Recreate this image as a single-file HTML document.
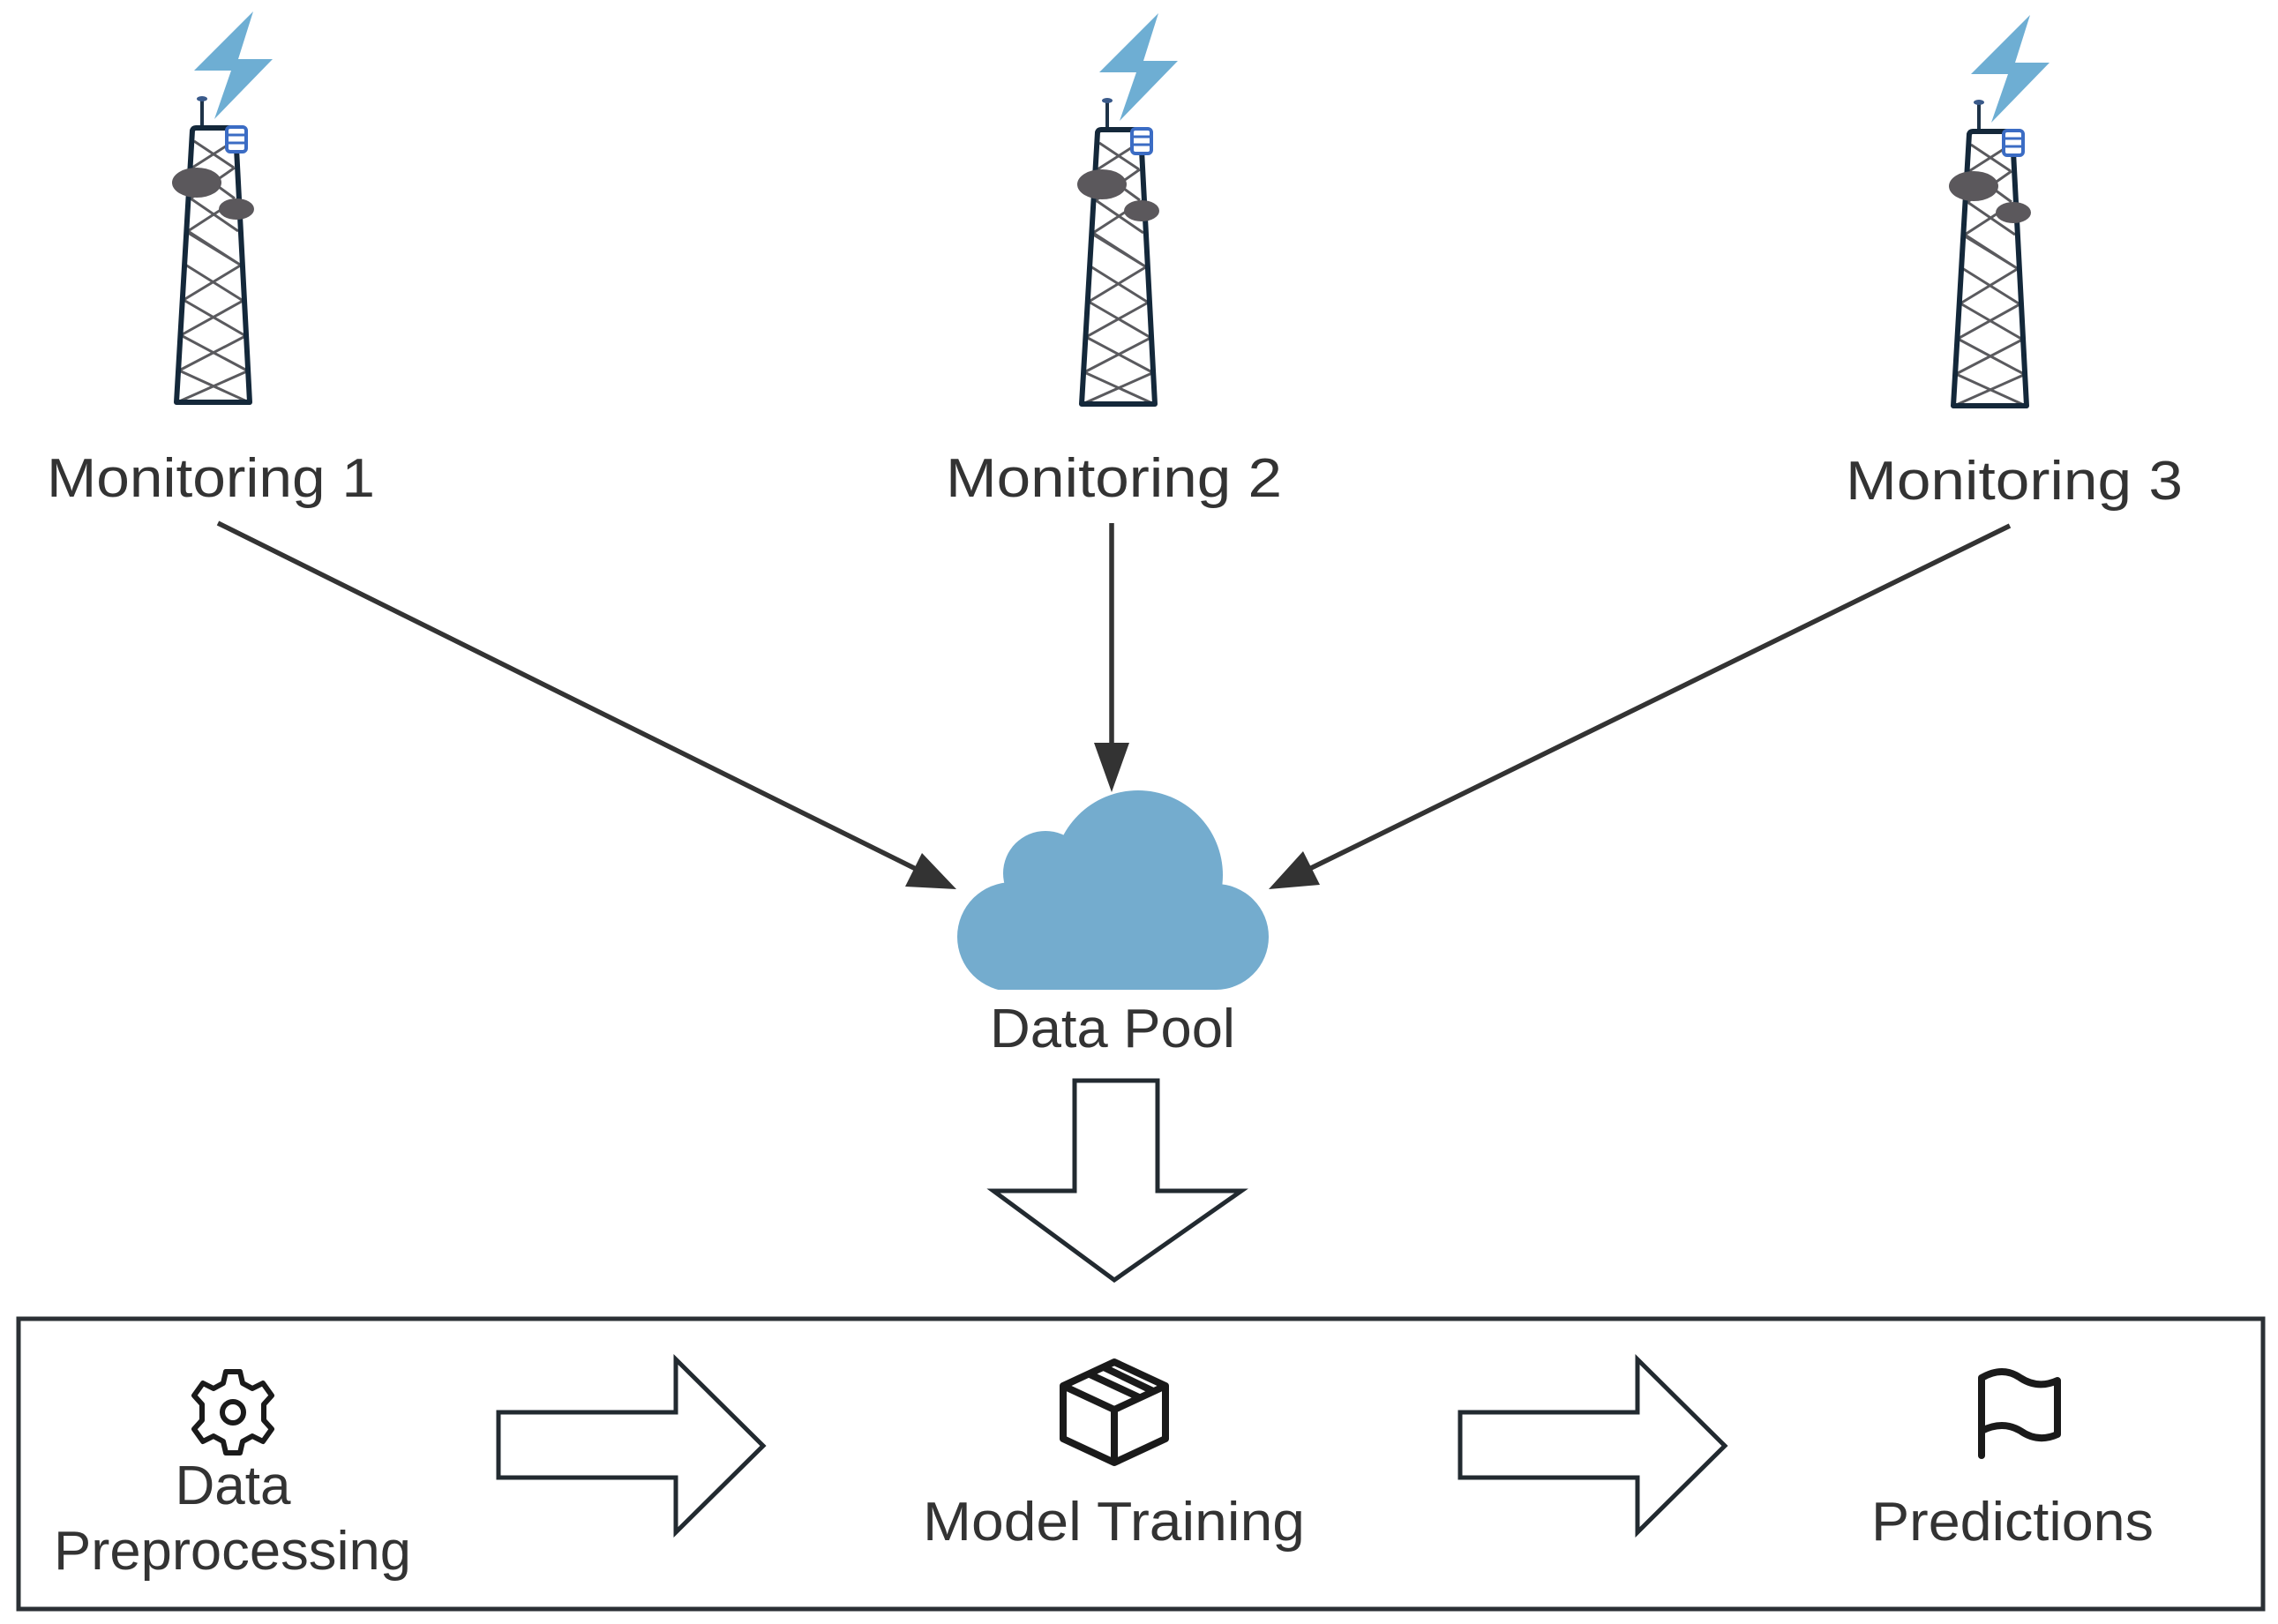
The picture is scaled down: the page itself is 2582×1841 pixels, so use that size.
<!DOCTYPE html>
<html><head><meta charset="utf-8"><style>
html,body{margin:0;padding:0;background:#fff;}
svg{display:block}
text{font-family:"Liberation Sans",sans-serif;fill:#333;font-size:62px}
</style></head><body>
<svg width="2582" height="1841" viewBox="0 0 2582 1841" xmlns="http://www.w3.org/2000/svg">
<defs>
<g id="tower">
  <polygon points="287,13 220,80 262,80 243,135 309,67 270,67" fill="#6eaed3"/>
  <line x1="229" y1="112" x2="229" y2="146" stroke="#1e3348" stroke-width="4"/>
  <ellipse cx="229" cy="112" rx="6" ry="3" fill="#3a5a8a"/>
  <g stroke="#5a5a5e" stroke-width="3" fill="none">
    <path d="M220,160 L265,190 M265,160 L218,190 M218,190 L266,225 M266,190 L216,225 M216,225 L270,262 M270,225 L213,262 M213,262 L272,300 M272,300 L210,262 M210,300 L274,340 M274,300 L208,340 M208,340 L277,380 M277,340 L205,380 M205,380 L280,420 M280,380 L203,420 M203,420 L282,456 M282,420 L201,456"/>
  </g>
  <path d="M200,456 L218,148 Q219,145 222,145 L262,145 Q266,145 267,149 L283,456 Z" fill="none" stroke="#14283a" stroke-width="6" stroke-linejoin="round"/>
  <rect x="257" y="144" width="22" height="28" rx="4" fill="#fff" stroke="#3b6cc4" stroke-width="4"/>
  <line x1="258" y1="153" x2="278" y2="153" stroke="#3b6cc4" stroke-width="3"/>
  <line x1="258" y1="162" x2="278" y2="162" stroke="#3b6cc4" stroke-width="3"/>
  <ellipse cx="223" cy="207" rx="28" ry="17" fill="#5b585c"/>
  <ellipse cx="268" cy="237" rx="20" ry="12" fill="#5b585c"/>
</g>
<clipPath id="cc"><rect x="1000" y="850" width="500" height="272"/></clipPath>
</defs>

<use href="#tower"/>
<use href="#tower" transform="translate(1026,2)"/>
<use href="#tower" transform="translate(2014,4)"/>

<text x="53" y="563" textLength="372" lengthAdjust="spacingAndGlyphs">Monitoring 1</text>
<text x="1072" y="563" textLength="381" lengthAdjust="spacingAndGlyphs">Monitoring 2</text>
<text x="2092" y="566" textLength="382" lengthAdjust="spacingAndGlyphs">Monitoring 3</text>

<g stroke="#333" stroke-width="5.5">
  <line x1="247" y1="593" x2="1040" y2="986"/>
  <line x1="1260" y1="593" x2="1260" y2="850"/>
  <line x1="2278" y1="596" x2="1482" y2="986"/>
</g>
<g fill="#333">
  <polygon points="1084,1008 1026,1005 1045,967"/>
  <polygon points="1260,898 1240,842 1280,842"/>
  <polygon points="1438,1008 1477,965 1496,1003"/>
</g>

<g fill="#74acce" clip-path="url(#cc)">
  <circle cx="1147" cy="1062" r="62"/>
  <circle cx="1185" cy="990" r="48"/>
  <circle cx="1290" cy="992" r="96"/>
  <circle cx="1378" cy="1062" r="60"/>
  <rect x="1147" y="1000" width="231" height="122"/>
</g>
<text x="1122" y="1187" textLength="278" lengthAdjust="spacingAndGlyphs">Data Pool</text>

<polygon points="1218,1225 1312,1225 1312,1350 1407,1350 1263,1451 1126,1350 1218,1350" fill="#fff" stroke="#222a30" stroke-width="5"/>

<rect x="21" y="1495" width="2544" height="329" fill="#fff" stroke="#2b3035" stroke-width="5"/>

<polygon points="565,1601 766,1601 766,1541 865,1639 766,1737 766,1675 565,1675" fill="#fff" stroke="#222a30" stroke-width="5"/>
<polygon points="1655,1601 1856,1601 1856,1541 1955,1639 1856,1737 1856,1675 1655,1675" fill="#fff" stroke="#222a30" stroke-width="5"/>

<g transform="translate(264,1601)" fill="none" stroke="#1a1a1a" stroke-width="6" stroke-linejoin="round">
  <path d="M-8,-46 L8,-46 L11,-33 L22,-27 L34,-33 L44,-19 L35,-9 L35,9 L44,19 L34,33 L22,27 L11,33 L8,46 L-8,46 L-11,33 L-22,27 L-34,33 L-44,19 L-35,9 L-35,-9 L-44,-19 L-34,-33 L-22,-27 L-11,-33 Z"/>
  <circle r="12"/>
</g>
<text x="264" y="1705" text-anchor="middle">Data</text>
<text x="61" y="1779" textLength="405" lengthAdjust="spacingAndGlyphs">Preprocessing</text>

<g transform="translate(1263,1601)" fill="none" stroke="#1a1a1a" stroke-width="8" stroke-linejoin="round">
  <path d="M0,-57 L58,-30 L58,30 L0,57 L-58,30 L-58,-30 Z"/>
  <path d="M-58,-30 L0,-3 L58,-30 M0,-3 L0,57"/>
  <path d="M-30,-44 L28,-17 M-14,-52 L44,-24"/>
</g>
<text x="1046" y="1746" textLength="433" lengthAdjust="spacingAndGlyphs">Model Training</text>

<g fill="none" stroke="#1a1a1a" stroke-width="8" stroke-linejoin="round" stroke-linecap="round">
  <path d="M2246,1650 L2246,1562 Q2270,1548 2290,1562 Q2310,1575 2332,1565 L2332,1626 Q2310,1636 2290,1622 Q2270,1610 2246,1622"/>
</g>
<text x="2121" y="1746" textLength="320" lengthAdjust="spacingAndGlyphs">Predictions</text>
</svg>
</body></html>
